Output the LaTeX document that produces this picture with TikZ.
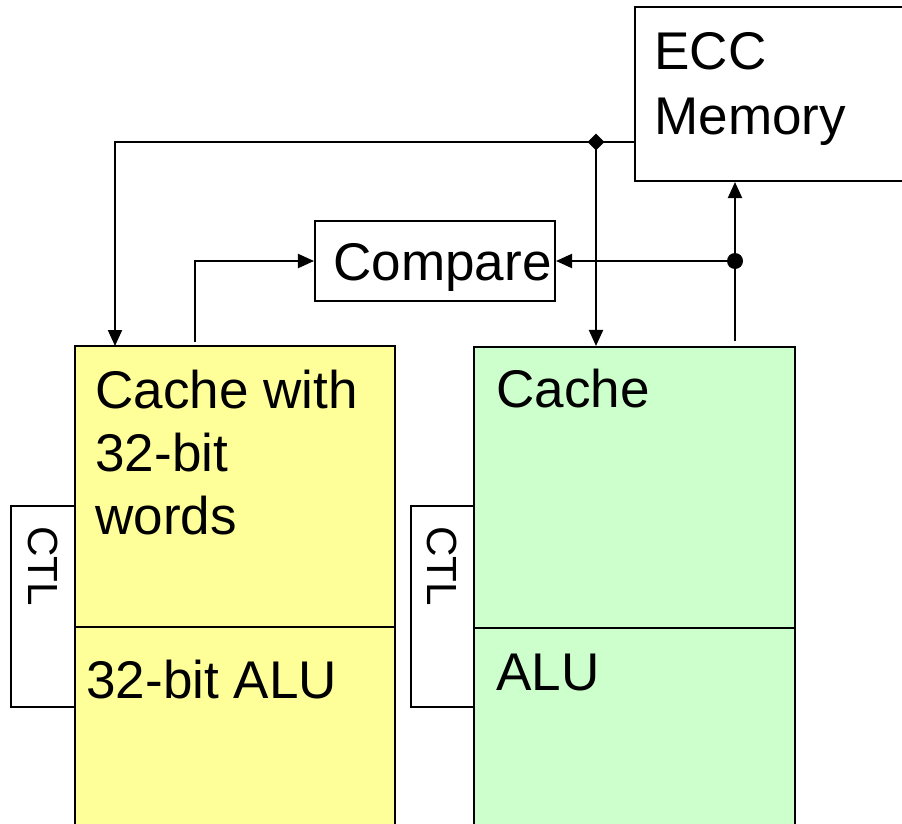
\documentclass[tikz,border=0pt]{standalone}
\usepackage{fontspec}
\setmainfont{Liberation Sans}
\usetikzlibrary{arrows.meta,shapes.geometric}
\definecolor{ylw}{HTML}{FFFF99}
\definecolor{grn}{HTML}{CCFFCC}
% one drawing unit: 0.02cm
\newcommand\pxu{0.02cm}
\begin{document}
\begin{tikzpicture}[x=0.02cm, y=-0.02cm,
  box/.style={draw=black, line width=1.15pt, inner sep=0pt},
  bigfont/.style={font=\fontsize{30.2pt}{35.85pt}\selectfont},
  lbl/.style={bigfont, inner sep=0pt},
  ctlfont/.style={font=\fontsize{24pt}{28pt}\selectfont},
  wire/.style={line width=1.15pt},
  tip/.style={-{Triangle[length=16*\pxu, width=14*\pxu]}},
]
\clip (0,0) rectangle (902,824);
\fill[white] (0,0) rectangle (902,824);

% memory and comparator
\node[box, fill=white, minimum width=325*\pxu, minimum height=174*\pxu] (mem) at (797.5,94) {};
\node[lbl, anchor=north west, align=left, font=\fontsize{30.2pt}{36.8pt}\selectfont] (memtxt) at (654,32) {ECC\\Memory};
\node[box, fill=white, bigfont, minimum width=240*\pxu, minimum height=80*\pxu,
      text height=38*\pxu, text depth=0pt] (cmp) at (435,261) {\hspace*{0.3cm}Compare};

% the two processors
\node[box, fill=ylw, minimum width=320*\pxu, minimum height=554*\pxu] (ycache) at (235,623) {};
\node[box, fill=grn, minimum width=321*\pxu, minimum height=553*\pxu] (gcache) at (634.5,623.5) {};
\coordinate (ydiv) at (0,627);
\coordinate (gdiv) at (0,628);
\draw[wire] (ycache.west |- ydiv) -- (ycache.east |- ydiv);
\draw[wire] (gcache.west |- gdiv) -- (gcache.east |- gdiv);

\node[box, fill=white, rotate=-90, ctlfont, minimum width=201*\pxu, minimum height=64*\pxu,
      text width=161*\pxu, align=left, inner xsep=20*\pxu] (ctlL) at (43,606.5) {CTL};
\node[box, fill=white, rotate=-90, ctlfont, minimum width=201*\pxu, minimum height=63*\pxu,
      text width=161*\pxu, align=left, inner xsep=20*\pxu] (ctlR) at (442.5,606.5) {CTL};

\node[lbl, anchor=north west, align=left] (ytxt) at (95,370) {Cache with\\32-bit\\words};
\node[lbl, anchor=base west] (yalu) at (86,698) {32-bit ALU};
\node[lbl, anchor=base west] (gtxt) at (496,407) {Cache};
\node[lbl, anchor=base west] (galu) at (496,690) {ALU};

% connectors
\node[diamond, fill=black, inner sep=0pt, minimum width=17*\pxu, minimum height=17*\pxu] (split) at (596,142) {};
\node[circle, fill=black, inner sep=0pt, minimum size=16*\pxu] (join) at (735,261) {};
\coordinate (yin) at (115,346);
\coordinate (yout) at (195,342);
\coordinate (gout) at (735,341);

\draw[wire] (mem.west |- split) -- (split.center);
\draw[wire, tip] (split.center) -| (yin);
\draw[wire, tip] (split.center) -- (split.center |- gcache.north);
\draw[wire, tip] (yout) |- (cmp.west);
\draw[wire, tip] (gout) -- (gout |- mem.south);
\draw[wire, tip] (join.center) -- (cmp.east);
\end{tikzpicture}
\end{document}
